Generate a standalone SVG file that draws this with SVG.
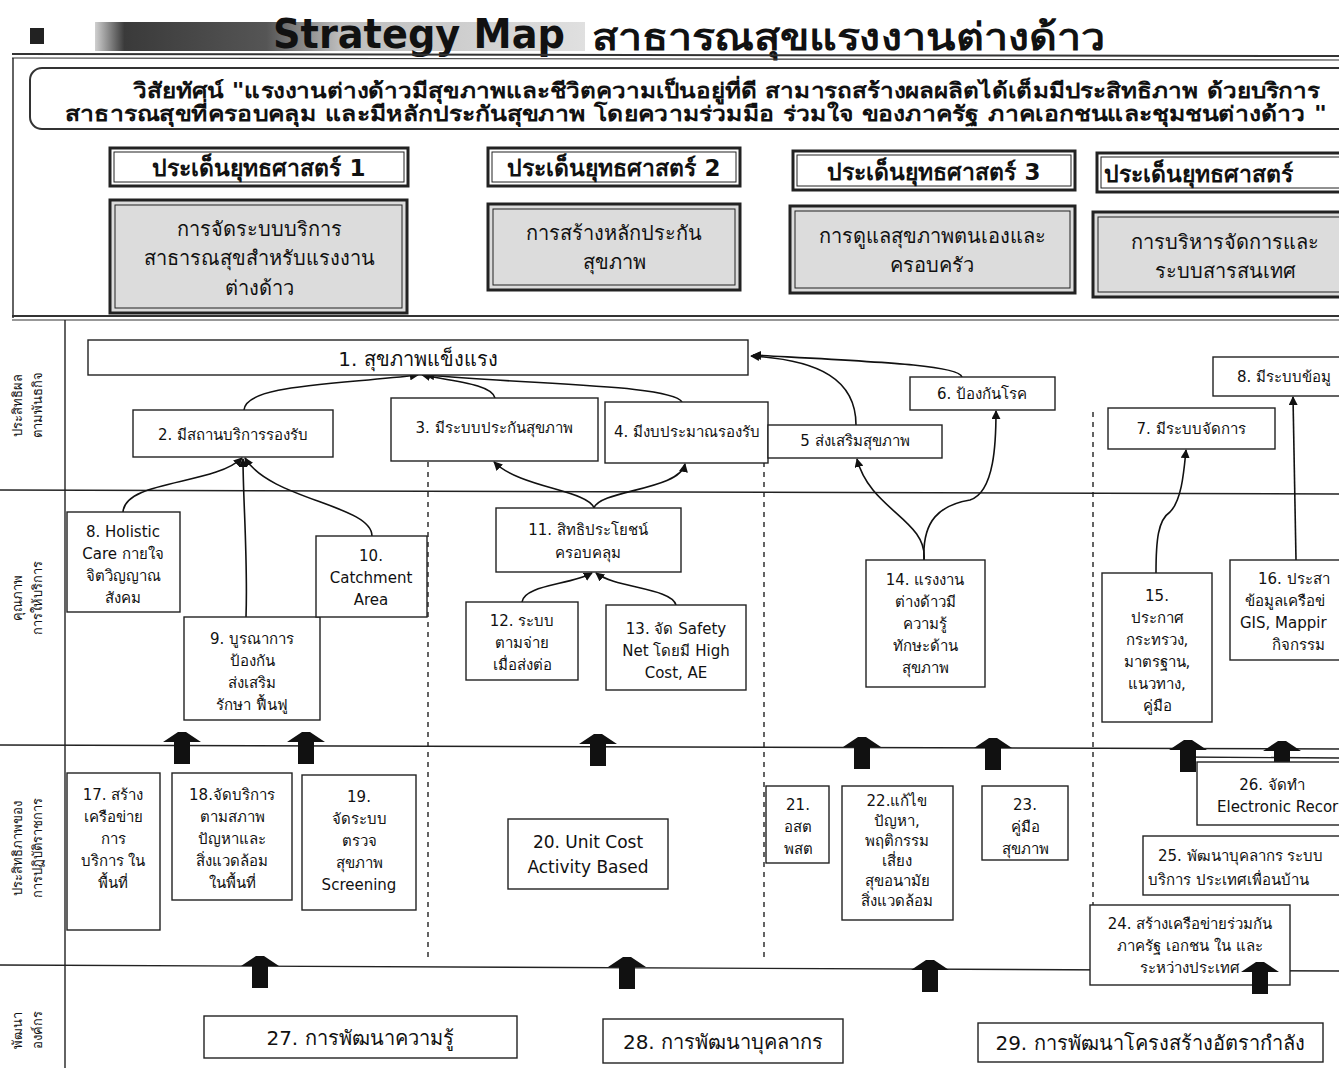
<svg xmlns="http://www.w3.org/2000/svg" width="1339" height="1068" viewBox="0 0 1339 1068">
<defs>
<linearGradient id="bar" x1="0" y1="0" x2="1" y2="0">
<stop offset="0" stop-color="#d0d0d0"/>
<stop offset="0.06" stop-color="#3a3a3a"/>
<stop offset="0.35" stop-color="#555"/>
<stop offset="0.5" stop-color="#bdbdbd"/>
<stop offset="1" stop-color="#e0e0e0"/>
</linearGradient>
<marker id="ah" viewBox="0 0 10 10" refX="9" refY="5" markerWidth="9" markerHeight="9" orient="auto" markerUnits="userSpaceOnUse">
<path d="M0,0 L10,5 L0,10 z" fill="#111"/>
</marker>
<symbol id="blk" overflow="visible">
<polygon points="-19,10 -4,0 4,0 19,10 8,10 8,32 -8,32 -8,10" fill="#111"/>
</symbol>
</defs>
<style>
text{font-family:"Tahoma","DejaVu Sans","Noto Sans",sans-serif;fill:#111}
.n rect{fill:#fff;stroke:#222;stroke-width:1.4}
.n text{font-size:15px;text-anchor:middle}
.big text{font-size:20px}
.hdr .o{fill:#fff;stroke:#222;stroke-width:3}
.hdr .i{fill:none;stroke:#222;stroke-width:1}
.hdr text{font-size:23px;font-weight:bold;text-anchor:middle}
.sub .o{fill:#dcdcdc;stroke:#222;stroke-width:3}
.sub .i{fill:none;stroke:#222;stroke-width:1}
.sub text{font-size:20px;text-anchor:middle}
.ax text{font-size:13px;text-anchor:middle}
.c path{fill:none;stroke:#111;stroke-width:1.6;marker-end:url(#ah)}
.rule{stroke:#222;stroke-width:1.4}
.dash{stroke:#222;stroke-width:1.4;stroke-dasharray:5 5}
</style>
<rect width="1339" height="1068" fill="#fff"/>

<g id="title">
<rect x="30" y="28" width="14" height="16" fill="#222"/>
<rect x="95" y="22" width="490" height="29" fill="url(#bar)"/>
<text x="273" y="48" font-size="40" font-weight="bold" textLength="292" lengthAdjust="spacingAndGlyphs">Strategy  Map</text>
<text x="592" y="50" font-size="38" font-weight="bold" textLength="513" lengthAdjust="spacingAndGlyphs">สาธารณสุขแรงงานต่างด้าว</text>
<line x1="12" y1="54" x2="1339" y2="56" stroke="#333" stroke-width="2"/>
<line x1="12" y1="58" x2="1339" y2="60" stroke="#333" stroke-width="1.2"/>
</g>

<g id="frame">
<line x1="13" y1="58" x2="13" y2="318" class="rule"/>
<line x1="12" y1="316" x2="1339" y2="316" stroke="#333" stroke-width="2"/>
<line x1="12" y1="320" x2="1339" y2="320" stroke="#333" stroke-width="1.2"/>
</g>

<g id="vision">
<rect x="30" y="68" width="1320" height="61" rx="12" fill="#fff" stroke="#333" stroke-width="2"/>
<text x="133" y="98" font-size="21" font-weight="bold" textLength="1187" lengthAdjust="spacingAndGlyphs">วิสัยทัศน์ "แรงงานต่างด้าวมีสุขภาพและชีวิตความเป็นอยู่ที่ดี สามารถสร้างผลผลิตได้เต็มมีประสิทธิภาพ ด้วยบริการ</text>
<text x="65" y="121" font-size="21" font-weight="bold" textLength="1262" lengthAdjust="spacingAndGlyphs">สาธารณสุขที่ครอบคลุม และมีหลักประกันสุขภาพ  โดยความร่วมมือ ร่วมใจ ของภาครัฐ ภาคเอกชนและชุมชนต่างด้าว "</text>
</g>

<g id="issue1" class="hdr"><rect class="o" x="110" y="148" width="298" height="38"/><rect class="i" x="114" y="152" width="290" height="30"/><text x="259" y="176">ประเด็นยุทธศาสตร์ 1</text></g>
<g id="issue2" class="hdr"><rect class="o" x="488" y="148" width="252" height="38"/><rect class="i" x="492" y="152" width="244" height="30"/><text x="614" y="176">ประเด็นยุทธศาสตร์ 2</text></g>
<g id="issue3" class="hdr"><rect class="o" x="793" y="151" width="282" height="39"/><rect class="i" x="797" y="155" width="274" height="31"/><text x="934" y="180">ประเด็นยุทธศาสตร์ 3</text></g>
<g id="issue4" class="hdr"><rect class="o" x="1097" y="153" width="250" height="39"/><rect class="i" x="1101" y="157" width="250" height="31"/><text x="1104" y="182" style="text-anchor:start">ประเด็นยุทธศาสตร์</text></g>

<g id="goal1" class="sub"><rect class="o" x="110" y="200" width="297" height="113"/><rect class="i" x="115" y="205" width="287" height="103"/><text x="259" y="236">การจัดระบบบริการ</text><text x="259" y="265">สาธารณสุขสำหรับแรงงาน</text><text x="259" y="295">ต่างด้าว</text></g>
<g id="goal2" class="sub"><rect class="o" x="488" y="204" width="252" height="86"/><rect class="i" x="493" y="209" width="242" height="76"/><text x="614" y="240">การสร้างหลักประกัน</text><text x="614" y="269">สุขภาพ</text></g>
<g id="goal3" class="sub"><rect class="o" x="790" y="206" width="285" height="87"/><rect class="i" x="795" y="211" width="275" height="77"/><text x="932" y="243">การดูแลสุขภาพตนเองและ</text><text x="932" y="272">ครอบครัว</text></g>
<g id="goal4" class="sub"><rect class="o" x="1093" y="212" width="260" height="85"/><rect class="i" x="1098" y="217" width="260" height="75"/><text x="1225" y="249">การบริหารจัดการและ</text><text x="1225" y="278">ระบบสารสนเทศ</text></g>

<g id="grid">
<line x1="65" y1="320" x2="65" y2="1068" class="rule"/>
<line x1="0" y1="490" x2="1339" y2="494" class="rule"/>
<line x1="0" y1="745" x2="1339" y2="749" class="rule"/>
<line x1="1180" y1="757" x2="1339" y2="758" class="rule"/>
<line x1="0" y1="965" x2="1339" y2="971" class="rule"/>
<line x1="428" y1="462" x2="428" y2="960" class="dash"/>
<line x1="764" y1="462" x2="764" y2="960" class="dash"/>
<line x1="1093" y1="412" x2="1093" y2="960" class="dash"/>
</g>

<g id="axis" class="ax">
<text transform="translate(22,405) rotate(-90)">ประสิทธิผล</text>
<text transform="translate(42,405) rotate(-90)">ตามพันธกิจ</text>
<text transform="translate(22,598) rotate(-90)">คุณภาพ</text>
<text transform="translate(42,598) rotate(-90)">การให้บริการ</text>
<text transform="translate(22,848) rotate(-90)">ประสิทธิภาพของ</text>
<text transform="translate(42,848) rotate(-90)">การปฏิบัติราชการ</text>
<text transform="translate(22,1030) rotate(-90)">พัฒนา</text>
<text transform="translate(42,1030) rotate(-90)">องค์กร</text>
</g>

<g id="connectors" class="c">
<path d="M244,410 C246,385 330,385 418,375"/>
<path d="M495,398 C492,385 460,382 422,375"/>
<path d="M682,402 C672,385 540,385 426,375"/>
<path d="M856,425 C856,380 820,360 751,356"/>
<path d="M962,377 C958,365 880,362 753,355"/>
<path d="M123,512 C125,480 215,485 242,458"/>
<path d="M246,617 C248,560 243,500 243,459"/>
<path d="M372,536 C372,505 270,500 245,458"/>
<path d="M594,508 C588,490 520,488 494,462"/>
<path d="M594,508 C600,490 680,490 685,464"/>
<path d="M522,602 C524,585 570,585 592,573"/>
<path d="M676,605 C672,588 615,588 596,573"/>
<path d="M924,560 C928,520 870,510 857,459"/>
<path d="M924,560 C922,520 940,505 970,500 C995,492 996,440 996,411"/>
<path d="M1156,573 C1156,540 1158,520 1170,512 C1182,500 1184,470 1186,450"/>
<path d="M1296,560 L1293,397"/>
</g>

<g id="blockarrows">
<use href="#blk" x="182" y="732"/>
<use href="#blk" x="306" y="732"/>
<use href="#blk" x="598" y="734"/>
<use href="#blk" x="862" y="737"/>
<use href="#blk" x="993" y="738"/>
<use href="#blk" x="1188" y="740"/>
<use href="#blk" x="1282" y="741"/>
<use href="#blk" x="260" y="956"/>
<use href="#blk" x="627" y="957"/>
<use href="#blk" x="930" y="960"/>
</g>

<g id="n1" class="n big"><rect x="88" y="340" width="660" height="35"/><text x="418" y="366">1. สุขภาพแข็งแรง</text></g>
<g id="n2" class="n"><rect x="133" y="410" width="200" height="47"/><text x="233" y="440">2. มีสถานบริการรองรับ</text></g>
<g id="n3" class="n"><rect x="391" y="398" width="207" height="63"/><text x="494" y="433">3. มีระบบประกันสุขภาพ</text></g>
<g id="n4" class="n"><rect x="605" y="402" width="163" height="61"/><text x="687" y="437">4. มีงบประมาณรองรับ</text></g>
<g id="n5" class="n"><rect x="768" y="425" width="174" height="33"/><text x="855" y="446">5 ส่งเสริมสุขภาพ</text></g>
<g id="n6" class="n"><rect x="910" y="377" width="145" height="33"/><text x="982" y="399">6. ป้องกันโรค</text></g>
<g id="n7" class="n"><rect x="1108" y="408" width="167" height="41"/><text x="1191" y="434">7. มีระบบจัดการ</text></g>
<g id="n8" class="n"><rect x="1213" y="357" width="140" height="39"/><text x="1237" y="382" style="text-anchor:start">8. มีระบบข้อมู</text></g>

<g id="n8h" class="n"><rect x="67" y="512" width="113" height="100"/><text x="123" y="537">8. Holistic</text><text x="123" y="559">Care กายใจ</text><text x="123" y="581">จิตวิญญาณ</text><text x="123" y="603">สังคม</text></g>
<g id="n9" class="n"><rect x="184" y="617" width="136" height="103"/><text x="252" y="644">9. บูรณาการ</text><text x="252" y="666">ป้องกัน</text><text x="252" y="688">ส่งเสริม</text><text x="252" y="710">รักษา ฟื้นฟู</text></g>
<g id="n10" class="n"><rect x="316" y="536" width="111" height="81"/><text x="371" y="561">10.</text><text x="371" y="583">Catchment</text><text x="371" y="605">Area</text></g>
<g id="n11" class="n"><rect x="496" y="508" width="185" height="64"/><text x="588" y="535">11. สิทธิประโยชน์</text><text x="588" y="558">ครอบคลุม</text></g>
<g id="n12" class="n"><rect x="466" y="602" width="112" height="78"/><text x="522" y="626">12. ระบบ</text><text x="522" y="648">ตามจ่าย</text><text x="522" y="670">เมื่อส่งต่อ</text></g>
<g id="n13" class="n"><rect x="606" y="605" width="140" height="85"/><text x="676" y="634">13. จัด Safety</text><text x="676" y="656">Net โดยมี High</text><text x="676" y="678">Cost, AE</text></g>
<g id="n14" class="n"><rect x="866" y="560" width="119" height="127"/><text x="925" y="585">14. แรงงาน</text><text x="925" y="607">ต่างด้าวมี</text><text x="925" y="629">ความรู้</text><text x="925" y="651">ทักษะด้าน</text><text x="925" y="673">สุขภาพ</text></g>
<g id="n15" class="n"><rect x="1102" y="573" width="110" height="149"/><text x="1157" y="601">15.</text><text x="1157" y="623">ประกาศ</text><text x="1157" y="645">กระทรวง,</text><text x="1157" y="667">มาตรฐาน,</text><text x="1157" y="689">แนวทาง,</text><text x="1157" y="711">คู่มือ</text></g>
<g id="n16" class="n"><rect x="1230" y="560" width="125" height="100"/><text x="1258" y="584" style="text-anchor:start">16. ประสา</text><text x="1245" y="606" style="text-anchor:start">ข้อมูลเครือข่</text><text x="1240" y="628" style="text-anchor:start">GIS, Mappir</text><text x="1298" y="650">กิจกรรม</text></g>

<g id="n17" class="n"><rect x="67" y="773" width="93" height="157"/><text x="113" y="800">17. สร้าง</text><text x="113" y="822">เครือข่าย</text><text x="113" y="844">การ</text><text x="113" y="866">บริการ ใน</text><text x="113" y="888">พื้นที่</text></g>
<g id="n18" class="n"><rect x="172" y="773" width="120" height="127"/><text x="232" y="800">18.จัดบริการ</text><text x="232" y="822">ตามสภาพ</text><text x="232" y="844">ปัญหาและ</text><text x="232" y="866">สิ่งแวดล้อม</text><text x="232" y="888">ในพื้นที่</text></g>
<g id="n19" class="n"><rect x="302" y="775" width="114" height="135"/><text x="359" y="802">19.</text><text x="359" y="824">จัดระบบ</text><text x="359" y="846">ตรวจ</text><text x="359" y="868">สุขภาพ</text><text x="359" y="890">Screening</text></g>
<g id="n20" class="n"><rect x="508" y="819" width="160" height="70"/><text x="588" y="848" style="font-size:17px">20. Unit Cost</text><text x="588" y="873" style="font-size:17px">Activity Based</text></g>
<g id="n21" class="n"><rect x="766" y="786" width="63" height="77"/><text x="798" y="810">21.</text><text x="798" y="832">อสต</text><text x="798" y="854">พสต</text></g>
<g id="n22" class="n"><rect x="842" y="786" width="111" height="134"/><text x="897" y="806">22.แก้ไข</text><text x="897" y="826">ปัญหา,</text><text x="897" y="846">พฤติกรรม</text><text x="897" y="866">เสี่ยง</text><text x="897" y="886">สุขอนามัย</text><text x="897" y="906">สิ่งแวดล้อม</text></g>
<g id="n23" class="n"><rect x="982" y="786" width="86" height="74"/><text x="1025" y="810">23.</text><text x="1025" y="832">คู่มือ</text><text x="1025" y="854">สุขภาพ</text></g>
<g id="n26" class="n"><rect x="1197" y="762" width="155" height="63"/><text x="1272" y="790">26. จัดทำ</text><text x="1217" y="812" style="text-anchor:start">Electronic Recor</text></g>
<g id="n25" class="n"><rect x="1143" y="836" width="210" height="59"/><text x="1158" y="861" style="text-anchor:start">25. พัฒนาบุคลากร ระบบ</text><text x="1148" y="885" style="text-anchor:start">บริการ ประเทศเพื่อนบ้าน</text></g>
<g id="n24" class="n"><rect x="1090" y="905" width="200" height="80"/><text x="1190" y="929">24. สร้างเครือข่ายร่วมกัน</text><text x="1190" y="951">ภาครัฐ เอกชน ใน และ</text><text x="1190" y="973">ระหว่างประเทศ</text></g>
<use href="#blk" x="1260" y="962"/>

<g id="n27" class="n big"><rect x="204" y="1016" width="313" height="42"/><text x="360" y="1045">27. การพัฒนาความรู้</text></g>
<g id="n28" class="n big"><rect x="603" y="1019" width="240" height="44"/><text x="723" y="1049">28. การพัฒนาบุคลากร</text></g>
<g id="n29" class="n big"><rect x="978" y="1023" width="345" height="39"/><text x="1150" y="1050">29. การพัฒนาโครงสร้างอัตรากำลัง</text></g>
</svg>
